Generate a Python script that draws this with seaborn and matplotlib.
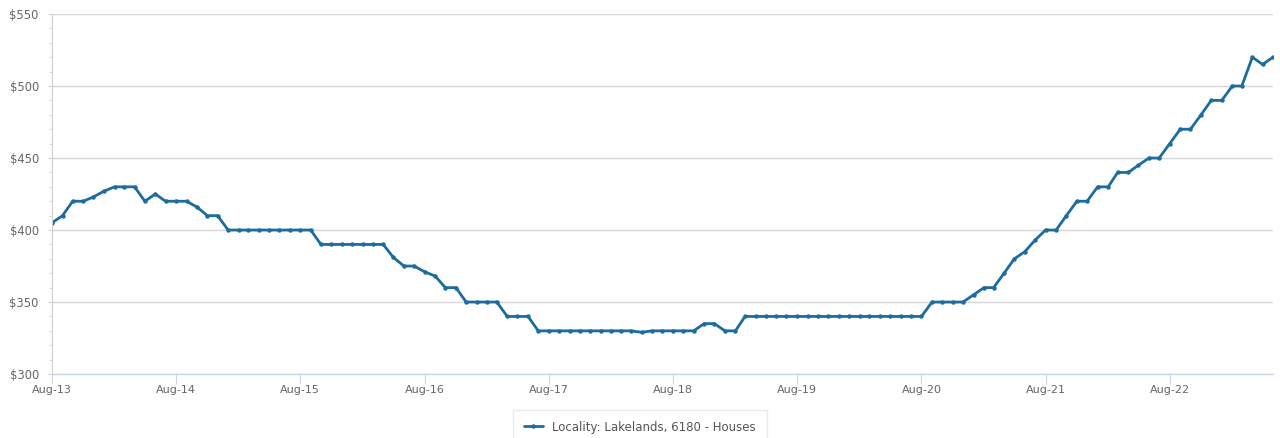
import numpy as np
import pandas as pd
import matplotlib
matplotlib.use('Agg')
import matplotlib.pyplot as plt
import matplotlib.dates as mdates
from matplotlib.ticker import FuncFormatter, MultipleLocator
import seaborn as sns

sns.set_style('white')
plt.rcParams['font.family'] = ['DejaVu Sans']

# Monthly median house values ($'000), Aug-13 to Jun-23
start_month = '2013-08-01'
median_values = [
    405, 410, 420, 420, 423, 427, 430, 430, 430, 420, 425, 420,
    420, 420, 416, 410, 410, 400, 400, 400, 400, 400, 400, 400,
    400, 400, 390, 390, 390, 390, 390, 390, 390, 381, 375, 375,
    371, 368, 360, 360, 350, 350, 350, 350, 340, 340, 340, 330,
    330, 330, 330, 330, 330, 330, 330, 330, 330, 329, 330, 330,
    330, 330, 330, 335, 335, 330, 330, 340, 340, 340, 340, 340,
    340, 340, 340, 340, 340, 340, 340, 340, 340, 340, 340, 340,
    340, 350, 350, 350, 350, 355, 360, 360, 370, 380, 385, 393,
    400, 400, 410, 420, 420, 430, 430, 440, 440, 445, 450, 450,
    460, 470, 470, 480, 490, 490, 500, 500, 520, 515, 520,
]
series_label = 'Locality: Lakelands, 6180 - Houses'
y_ticks = [300, 350, 400, 450, 500, 550]
tick_years = list(range(2013, 2023))

months = pd.date_range(start_month, periods=len(median_values), freq='MS')
df = pd.DataFrame({'month': months, 'value': median_values})

line_color = '#1c6c9f'

fig = plt.figure(figsize=(12.8, 4.38), dpi=100)
ax = fig.add_axes([0.0406, 0.146, 0.954, 0.822])

sns.lineplot(data=df, x='month', y='value', ax=ax, color=line_color,
             linewidth=2, marker='o', markersize=3.2, markeredgewidth=0,
             label=series_label, legend=False)

ax.set_ylim(300, 550)
ax.set_yticks(y_ticks)
ax.yaxis.set_minor_locator(MultipleLocator(10))
ax.yaxis.set_major_formatter(FuncFormatter(lambda v, _: f'${v:.0f}'))
ax.set_xlim(months[0], months[-1])
ax.set_xticks([pd.Timestamp(f'{y}-08-01') for y in tick_years])
ax.xaxis.set_major_formatter(mdates.DateFormatter('%b-%y'))

ax.grid(True, axis='y', which='major', color='#d6d6d6', linewidth=1)
ax.grid(False, axis='x')
ax.set_xlabel('')
ax.set_ylabel('')

for side in ['top', 'right']:
    ax.spines[side].set_visible(False)
ax.spines['left'].set_color('#d0d0d0')
ax.spines['bottom'].set_color('#ccd6eb')
ax.spines['bottom'].set_linewidth(1)

ax.tick_params(axis='x', which='major', bottom=True, colors='#666666',
               labelsize=8, length=7, color='#ccd6eb', direction='out', pad=1)
ax.tick_params(axis='y', which='major', left=True, colors='#666666',
               labelsize=8.3, length=3, color='#d0d0d0', pad=6.5)
ax.tick_params(axis='y', which='minor', left=True, length=2.2, color='#d0d0d0')

handles, labels = ax.get_legend_handles_labels()
leg = fig.legend(handles, labels, loc='upper center', bbox_to_anchor=(0.5, 0.064),
                 borderaxespad=0, frameon=True, fancybox=False, fontsize=8.5,
                 handlelength=1.6, borderpad=0.9, labelcolor='#555555')
leg.get_frame().set_edgecolor('#e6e6e6')
leg.get_frame().set_linewidth(1)

fig.savefig('out.png', dpi=100)
